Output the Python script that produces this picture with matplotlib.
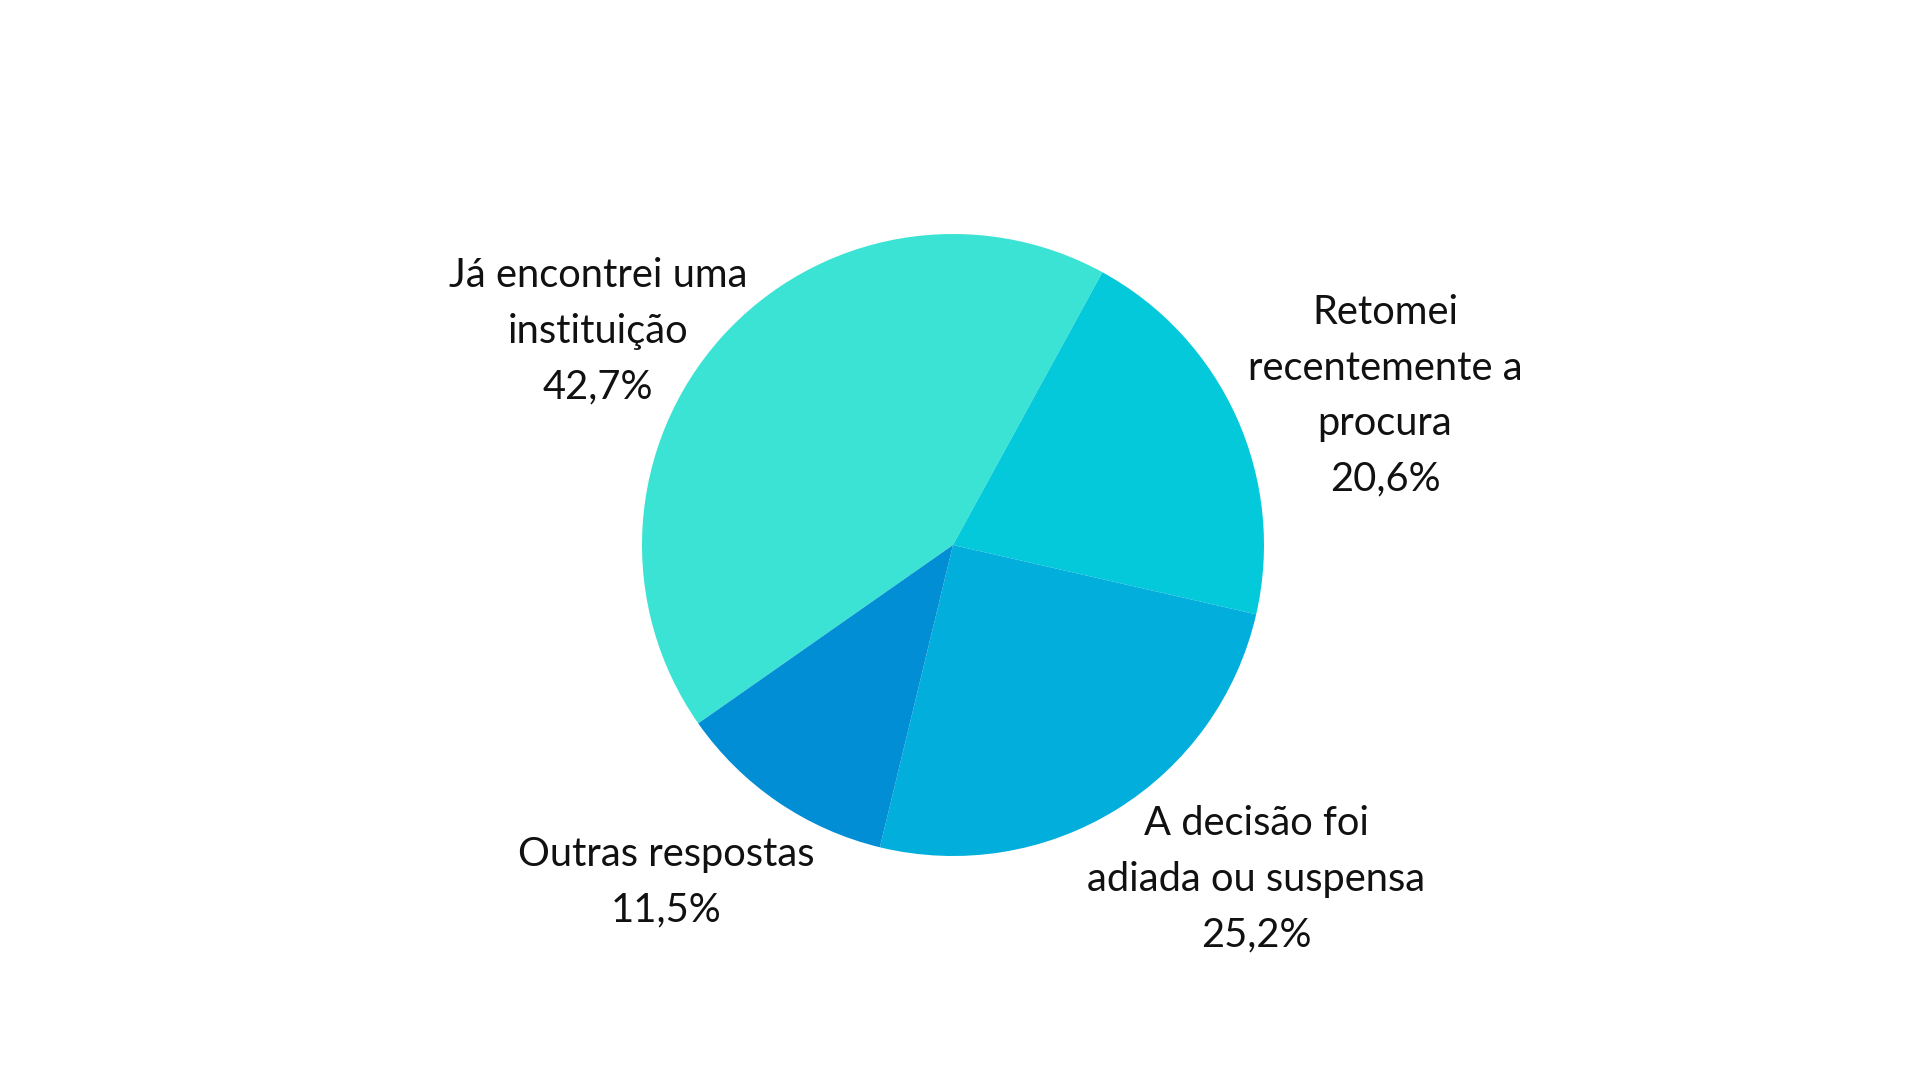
import matplotlib
matplotlib.use("Agg")
import matplotlib.pyplot as plt

plt.rcParams["font.family"] = ["Lato", "DejaVu Sans"]

# data
categories = [
    "Já encontrei uma\ninstituição",
    "Retomei\nrecentemente a\nprocura",
    "A decisão foi\nadiada ou suspensa",
    "Outras respostas",
]
values = [42.7, 20.6, 25.2, 11.5]
colors = ["#3be3d4", "#03c9db", "#02aedb", "#018ed5"]

# label block centres, in pixels from the top-left (layout only)
label_pos = [(598, 331), (1385, 396), (1256, 879), (666, 882)]

W, H = 1920, 1080
fig = plt.figure(figsize=(19.2, 10.8), dpi=100)
ax = fig.add_axes([0, 0, 1, 1])

ax.pie(
    values,
    colors=colors,
    startangle=215,
    counterclock=False,
    center=(953, H - 545),
    radius=311,
    wedgeprops=dict(linewidth=0),
    frame=True,
)
ax.set_xlim(0, W)
ax.set_ylim(0, H)
ax.set_aspect("equal")
ax.axis("off")

for lab, v, (x, y) in zip(categories, values, label_pos):
    txt = f"{lab}\n{v:.1f}%".replace(".", ",")
    ax.text(x, H - y, txt, ha="center", va="center", fontsize=28.7,
            color="#111111", linespacing=1.62, multialignment="center")

fig.savefig("out.png", dpi=100, facecolor="white")
